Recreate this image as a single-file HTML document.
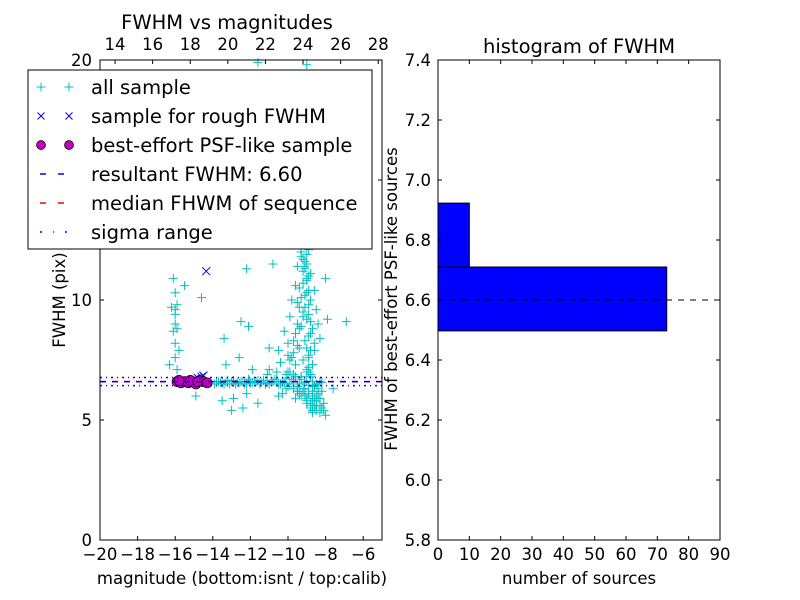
<!DOCTYPE html>
<html><head><meta charset="utf-8"><style>
body{margin:0;background:#fff}
svg{display:block;font-family:"DejaVu Sans","Liberation Sans",sans-serif}
</style></head><body>
<svg id="c" width="800" height="600"></svg>
<script>
// ---- data: scatter (left plot) ----
const allX = [-13.9,-13.7,-13.5,-13.3,-13.1,-12.9,-12.7,-12.5,-12.3,-12.1,-11.9,-11.7,-11.5,-11.3,-11.1,-10.9,-10.7,-10.5,-10.3,-10.1,-9.9,-9.7,-9.5,-9.3,-9.1,-8.9,-8.7,-8.5,-8.3,-13.8,-13.4,-13.0,-12.6,-12.2,-11.8,-11.4,-11.0,-10.6,-10.2,-9.8,-9.4,-9.0,-8.6,-8.2,
 -13.6,-13.2,-12.8,-12.4,-12.0,-11.6,-11.2,-10.8,-10.4,-10.0,-9.6,-9.2,-8.8,-8.4,-10.1,-9.9,-9.7,-9.5,-9.3,-9.1,-8.9,-8.7,
 -9.3,-9.1,-9.2,-9.0,-9.4,-9.1,-8.9,-9.2,-9.0,-9.3,-8.8,-9.1,-9.0,-8.9,-9.2,-8.7,-9.0,-8.8,-9.1,-8.9,-8.6,-9.0,-8.8,-8.7,-9.3,-9.5,-9.6,-9.8,-9.9,-10.2,-10.0,-9.7,-10.4,-10.6,-9.5,-9.4,-8.5,-8.4,-8.3,-8.6,-8.9,-9.1,-8.8,-9.0,-9.2,-9.4,-9.6,-10.1,-10.3,-8.7,-8.5,-8.2,-8.4,-8.0,-8.3,-8.1,-7.9,-8.6,-8.8,-9.0,-9.5,-10.0,-10.5,-11.0,-9.7,-9.3,-8.9,
 -9.0,-9.1,-8.9,-9.2,-9.0,-8.8,-9.1,-8.9,-8.8,-8.7,-8.9,-8.6,-8.8,-8.9,-8.7,-9.0,-8.8,-8.6,-8.7,-8.5,-9.3,-9.2,-9.1,-9.0,-8.9,-9.3,-9.4,-9.2,-9.5,-9.6,-9.7,-9.4,-9.8,-9.6,-10.0,-9.9,-8.7,-8.5,-8.6,-8.8,-9.0,-9.3,-9.5,-9.2,-8.4,-8.3,-8.5,-8.7,-8.9,-8.6,-8.4,-8.2,-8.1,-8.3,-8.5,
 -16.1,-16.0,-15.9,-16.0,-16.2,-16.0,-16.0,-15.9,-16.1,-16.0,-15.8,-16.0,-16.3,-15.9,-15.5,-14.6,-13.4,-12.5,-11.9,-11.0,-10.8,-12.1,-12.6,-11.1,-10.5,-12.9,-13.5,-13.0,-12.4,-11.6,-12.2,-6.9,-7.6,-8.0,-11.6,-9.0,-13.3,-12.2,-14.9];
const allY = [6.5,6.6,6.55,6.6,6.5,6.65,6.55,6.6,6.5,6.7,6.55,6.6,6.5,6.65,6.55,6.6,6.7,6.5,6.6,6.75,6.5,6.6,6.4,6.7,6.55,6.45,6.6,6.5,6.6,6.6,6.5,6.6,6.55,6.5,6.6,6.55,6.5,6.6,6.55,6.7,6.5,6.6,6.45,6.55,
 6.55,6.65,6.5,6.6,6.55,6.65,6.5,6.6,6.5,6.4,6.8,6.3,6.9,6.2,6.9,7.0,6.3,6.2,6.8,6.1,7.0,6.0,
 12.0,11.6,11.2,10.9,10.5,10.2,9.8,9.5,9.2,8.9,8.6,8.3,8.0,7.7,7.5,7.3,7.1,6.9,6.3,6.1,5.9,5.7,5.5,5.3,11.8,11.4,10.6,10.0,9.3,8.7,8.2,7.8,7.4,7.0,9.9,8.8,9.6,9.0,8.4,7.9,7.2,6.0,5.6,5.8,6.2,6.1,5.9,6.3,6.1,5.4,5.6,5.5,5.9,5.2,5.3,5.4,9.2,10.4,11.1,11.5,8.1,7.7,7.9,7.1,6.9,6.8,12.1,
 11.9,11.4,11.0,10.7,10.3,10.0,9.7,9.4,9.1,8.8,8.5,8.2,7.9,7.6,7.3,7.0,6.8,6.4,6.2,6.0,12.0,11.7,11.3,10.8,10.4,10.1,9.7,9.3,9.0,8.6,8.3,8.0,7.6,7.3,7.0,7.5,5.8,5.6,5.5,5.7,5.9,6.0,6.2,6.3,6.1,5.9,5.8,6.0,6.1,6.4,6.3,6.2,5.7,5.6,5.4,
 10.9,10.3,9.8,9.6,9.7,9.4,9.0,8.8,8.7,8.2,7.9,7.6,7.3,7.1,10.6,10.1,8.4,9.1,7.1,8.0,11.5,8.9,7.6,6.9,6.0,5.9,5.8,5.4,5.5,5.7,6.1,9.1,6.3,10.9,19.9,19.8,7.3,11.3,6.0];
const roughX = [-14.35,-14.6,-14.8,-14.5];
const roughY = [11.2,6.8,6.75,6.85];
const bestX = [-15.9,-15.7,-15.5,-15.3,-15.1,-14.9,-14.7,-14.5,-14.3,-15.8,-15.2,-14.8];
const bestY = [6.6,6.55,6.6,6.55,6.6,6.5,6.65,6.6,6.55,6.65,6.65,6.6];
const fwhm = 6.60, sigLo = 6.43, sigHi = 6.77;
// ---- data: histogram ----
const binEdges = [6.497, 6.71, 6.923];
const binCounts = [73, 10];
const leftXTicks = [-20,-18,-16,-14,-12,-10,-8,-6];
const leftYTicks = [0,5,10,15,20];
const topTicks = [14,16,18,20,22,24,26,28];
const histXTicks = [0,10,20,30,40,50,60,70,80,90];
const histYTicks = [5.8,6.0,6.2,6.4,6.6,6.8,7.0,7.2,7.4];

const NS="http://www.w3.org/2000/svg", svg=document.getElementById('c');
function el(t,a,p){const e=document.createElementNS(NS,t);for(const k in a)e.setAttribute(k,a[k]);(p||svg).appendChild(e);return e;}
function txt(s,a,p){const e=el('text',a,p);e.textContent=s;return e;}
const fmt=v=>String(v).replace('-','\u2212');
const TF=16.5, AF=16.5, BF=19.5;

// left axes
const L={x0:100,x1:382,y0:540,y1:60};
const lx=v=>L.x0+(v+20)/15*(L.x1-L.x0);
const ly=v=>L.y0-v/20*(L.y0-L.y1);
const tx=v=>lx(v-33.2);
const gL=el('g',{});


function hline(v,color,dash,name){const l=el('line',{x1:L.x0,x2:L.x1,y1:ly(v),y2:ly(v),stroke:color,'stroke-width':1.5,'stroke-dasharray':dash},gL);
}
function plus(x,y,c,g){el('path',{d:`M${x-4.5},${y}h9M${x},${y-4.5}v9`,stroke:c,'stroke-width':1,fill:'none'},g);}
const gA=el('g',{},gL);
allX.forEach((v,i)=>plus(lx(v),ly(allY[i]),'#00bfbf',gA));
const gR=el('g',{},gL);
roughX.forEach((v,i)=>{const x=lx(v),y=ly(roughY[i]);el('path',{d:`M${x-4},${y-4}l8,8M${x-4},${y+4}l8,-8`,stroke:'#0000ff','stroke-width':1},gR);});
const gB=el('g',{},gL);
bestX.forEach((v,i)=>el('circle',{cx:lx(v),cy:ly(bestY[i]),r:5,fill:'#bf00bf',stroke:'#000','stroke-width':0.7},gB));
hline(sigHi,'#0000ff','2,4,1,4','sigma-high-line');
hline(sigLo,'#0000ff','2,4,1,4','sigma-low-line');
hline(fwhm,'#ff0000','6,6','median-line');
hline(fwhm,'#0000ff','6,6','resultant-fwhm-line');
el('rect',{x:L.x0,y:L.y1,width:L.x1-L.x0,height:L.y0-L.y1,fill:'none',stroke:'#000'},gL);
leftXTicks.forEach(v=>{const x=lx(v);el('path',{d:`M${x},${L.y0}v-4`,stroke:'#000'},gL);
 txt(fmt(v),{x:x,y:L.y0+20,'font-size':TF,'text-anchor':'middle'},gL);});
leftYTicks.forEach(v=>{const y=ly(v);el('path',{d:`M${L.x0},${y}h4M${L.x1},${y}h-4`,stroke:'#000'},gL);
 txt(String(v),{x:L.x0-8,y:y+6,'font-size':TF,'text-anchor':'end'},gL);});
topTicks.forEach(v=>{const x=tx(v);el('path',{d:`M${x},${L.y1}v4`,stroke:'#000'},gL);
 txt(String(v),{x:x,y:L.y1-10,'font-size':TF,'text-anchor':'middle'},gL);});
let t=txt('FWHM vs magnitudes',{x:227,y:29,'font-size':BF,'text-anchor':'middle'});
t=txt('magnitude (bottom:isnt / top:calib)',{x:242,y:584,'font-size':AF,'text-anchor':'middle'});
t=txt('FWHM (pix)',{x:65,y:300,'font-size':AF,'text-anchor':'middle',transform:'rotate(-90 65 300)'});

// legend
const lg=el('g',{});
el('rect',{x:28,y:70,width:344,height:179,fill:'#fff',stroke:'#000'},lg);
const labels=['all sample','sample for rough FWHM','best-effort PSF-like sample','resultant FWHM: 6.60','median FHWM of sequence','sigma range'];
labels.forEach((s,i)=>{const y=87+i*29;
 const e=txt(s,{x:91,y:y+7,'font-size':BF},lg);
 if(i==0){plus(41,y,'#00bfbf',lg);plus(69,y,'#00bfbf',lg);}
 if(i==1){[41,69].forEach(x=>el('path',{d:`M${x-3.5},${y-3.5}l7,7M${x-3.5},${y+3.5}l7,-7`,stroke:'#0000ff'},lg));}
 if(i==2){[41,69].forEach(x=>el('circle',{cx:x,cy:y,r:4.5,fill:'#bf00bf',stroke:'#000','stroke-width':0.7},lg));}
 if(i==3)el('line',{x1:40,x2:70,y1:y,y2:y,stroke:'#0000ff','stroke-width':1.5,'stroke-dasharray':'6,12'},lg);
 if(i==4)el('line',{x1:40,x2:70,y1:y,y2:y,stroke:'#ff0000','stroke-width':1.5,'stroke-dasharray':'6,12'},lg);
 if(i==5)el('line',{x1:40,x2:70,y1:y,y2:y,stroke:'#0000ff','stroke-width':1.5,'stroke-dasharray':'2,11,1,11'},lg);
});

// histogram
const H={x0:438,x1:720,y0:540,y1:60};
const hx=v=>H.x0+v/90*(H.x1-H.x0);
const hy=v=>H.y0-(v-5.8)/1.6*(H.y0-H.y1);
const gH=el('g',{});
binCounts.forEach((c,i)=>{const r=el('rect',{x:hx(0),y:hy(binEdges[i+1]),width:hx(c)-hx(0),height:hy(binEdges[i])-hy(binEdges[i+1]),fill:'#0000ff',stroke:'#000'},gH);
 });
const hl=el('line',{x1:H.x0,x2:H.x1,y1:hy(fwhm),y2:hy(fwhm),stroke:'#000','stroke-dasharray':'6,6'},gH);

el('rect',{x:H.x0,y:H.y1,width:H.x1-H.x0,height:H.y0-H.y1,fill:'none',stroke:'#000'},gH);
histXTicks.forEach(v=>{const x=hx(v);el('path',{d:`M${x},${H.y0}v-4M${x},${H.y1}v4`,stroke:'#000'},gH);
 txt(String(v),{x:x,y:H.y0+20,'font-size':TF,'text-anchor':'middle'},gH);});
histYTicks.forEach(v=>{const y=hy(v);el('path',{d:`M${H.x0},${y}h4M${H.x1},${y}h-4`,stroke:'#000'},gH);
 txt(v.toFixed(1),{x:H.x0-7,y:y+6,'font-size':TF,'text-anchor':'end'},gH);});
t=txt('histogram of FWHM',{x:579,y:53,'font-size':BF,'text-anchor':'middle'});
t=txt('number of sources',{x:579,y:584,'font-size':AF,'text-anchor':'middle'});
t=txt('FWHM of best-effort PSF-like sources',{x:397,y:299,'font-size':AF,'text-anchor':'middle',transform:'rotate(-90 397 299)'});
</script>
</body></html>
